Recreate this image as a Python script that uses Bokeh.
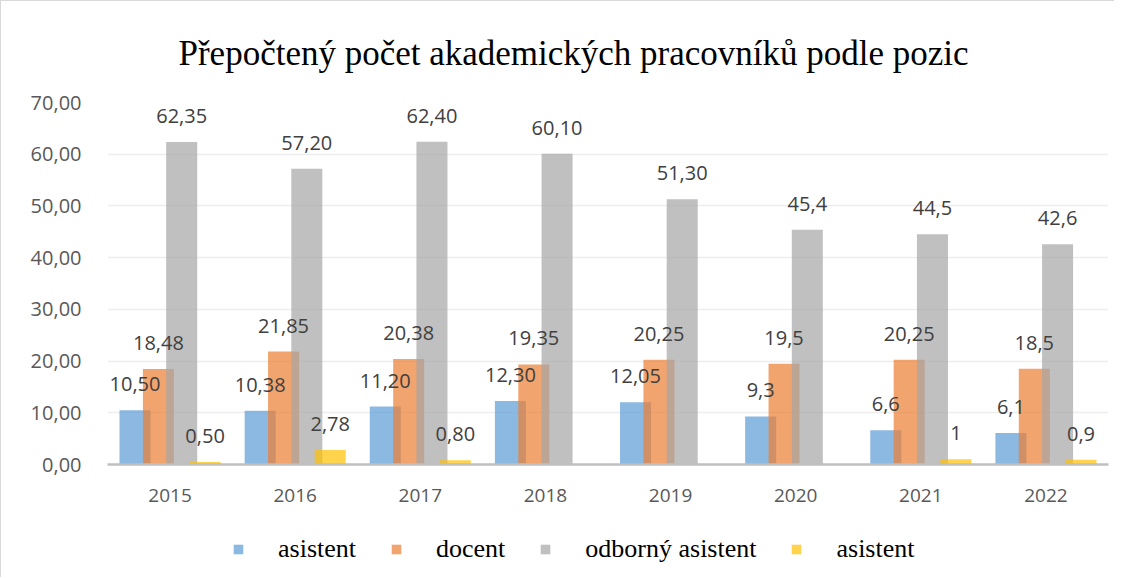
from bokeh.plotting import figure
from bokeh.layouts import column
from bokeh.models import ColumnDataSource, Range1d, FixedTicker, Legend, LegendItem
from bokeh.transform import dodge
from bokeh.core.properties import value
from bokeh.embed import file_html
from bokeh.resources import INLINE

years = ["2015", "2016", "2017", "2018", "2019", "2020", "2021", "2022"]

asistent = [10.50, 10.38, 11.20, 12.30, 12.05, 9.3, 6.6, 6.1]
docent = [18.48, 21.85, 20.38, 19.35, 20.25, 19.5, 20.25, 18.5]
odborny_asistent = [62.35, 57.20, 62.40, 60.10, 51.30, 45.4, 44.5, 42.6]
asistent_2 = [0.50, 2.78, 0.80, 0.0, 0.0, 0.0, 1.0, 0.9]

asistent_labels = ["10,50", "10,38", "11,20", "12,30", "12,05", "9,3", "6,6", "6,1"]
docent_labels = ["18,48", "21,85", "20,38", "19,35", "20,25", "19,5", "20,25", "18,5"]
odborny_labels = ["62,35", "57,20", "62,40", "60,10", "51,30", "45,4", "44,5", "42,6"]
asistent_2_labels = ["0,50", "2,78", "0,80", "", "", "", "1", "0,9"]

series_names = ["asistent", "docent", "odborný asistent", "asistent"]
series_values = [asistent, docent, odborny_asistent, asistent_2]
series_labels = [asistent_labels, docent_labels, odborny_labels, asistent_2_labels]
colors = ["#5B9BD5", "#ED7D31", "#A5A5A5", "#FFC000"]
offsets = [-0.28, -0.093, 0.093, 0.28]

y_ticks = [0, 10, 20, 30, 40, 50, 60, 70]
y_tick_labels = ["0,00", "10,00", "20,00", "30,00", "40,00", "50,00", "60,00", "70,00"]

p = figure(
    x_range=years,
    y_range=Range1d(0, 70),
    width=1113,
    height=514,
    output_backend="svg",
    toolbar_location=None,
    min_border_left=106,
    min_border_right=6,
    min_border_top=101,
    min_border_bottom=51,
)

p.title.text = "Přepočtený počet akademických pracovníků podle pozic"
p.title.text_font = "Liberation Serif"
p.title.text_font_size = "35px"
p.title.text_font_style = "normal"
p.title.text_color = "#000000"
p.title.align = "left"
p.title.offset = 71
p.title.standoff = 59

p.outline_line_color = None
p.xgrid.visible = False
p.ygrid.grid_line_color = "#EDEDED"
p.ygrid.grid_line_width = 1.5

p.yaxis.ticker = FixedTicker(ticks=y_ticks)
p.yaxis.major_label_overrides = {t: l for t, l in zip(y_ticks, y_tick_labels)}
p.yaxis.axis_line_color = None
p.yaxis.major_tick_line_color = None
p.yaxis.minor_tick_line_color = None
p.yaxis.major_label_text_font = "Open Sans"
p.yaxis.major_label_text_font_size = "20px"
p.yaxis.major_label_text_color = "#595959"
p.yaxis.major_label_standoff = 20

p.xaxis.axis_line_color = "#BFBFBF"
p.xaxis.axis_line_width = 2.5
p.xaxis.major_tick_line_color = None
p.xaxis.minor_tick_line_color = None
p.xaxis.major_label_text_font = "Open Sans"
p.xaxis.major_label_text_font_size = "19px"
p.xaxis.major_label_text_color = "#595959"
p.xaxis.major_label_standoff = 18

sources = []
for vals, labs in zip(series_values, series_labels):
    sources.append(ColumnDataSource(dict(year=years, val=vals, lab=labs)))

for src, col, off in zip(sources, colors, offsets):
    p.vbar(x=dodge("year", off, range=p.x_range), top="val", width=0.248,
           source=src, fill_color=col, fill_alpha=0.7, line_color=None)

for src, off in zip(sources, offsets):
    p.text(x=dodge("year", off, range=p.x_range), y="val", text="lab", source=src,
           text_font=value("Open Sans"), text_font_size="20px", text_color="#404040",
           text_align="center", text_baseline="alphabetic", y_offset=-26)

# legend strip below the chart
pl = figure(width=1113, height=62, output_backend="svg", toolbar_location=None,
            min_border=0, x_range=Range1d(0, 1), y_range=Range1d(0, 1),
            x_axis_location=None, y_axis_location=None)
pl.grid.visible = False
pl.outline_line_color = None

items = []
for name, col in zip(series_names, colors):
    r = pl.vbar(x=[-5], top=[-5], width=0.1, fill_color=col, fill_alpha=0.7, line_color=None)
    items.append(LegendItem(label=name, renderers=[r]))

legend = Legend(items=items, orientation="horizontal", location=(125, 13))
legend.label_text_font = "Liberation Serif"
legend.label_text_font_size = "26px"
legend.label_text_color = "#000000"
legend.glyph_width = 12
legend.glyph_height = 12
legend.label_standoff = 34
legend.spacing = 34
legend.padding = 10
legend.margin = 0
legend.border_line_color = None
legend.background_fill_alpha = 0
pl.add_layout(legend)

layout = column(p, pl, spacing=0)
layout.styles = {"border-left": "1px solid #D9D9D9", "border-top": "1px solid #D9D9D9"}
open("out.html", "w").write(file_html(layout, INLINE))
